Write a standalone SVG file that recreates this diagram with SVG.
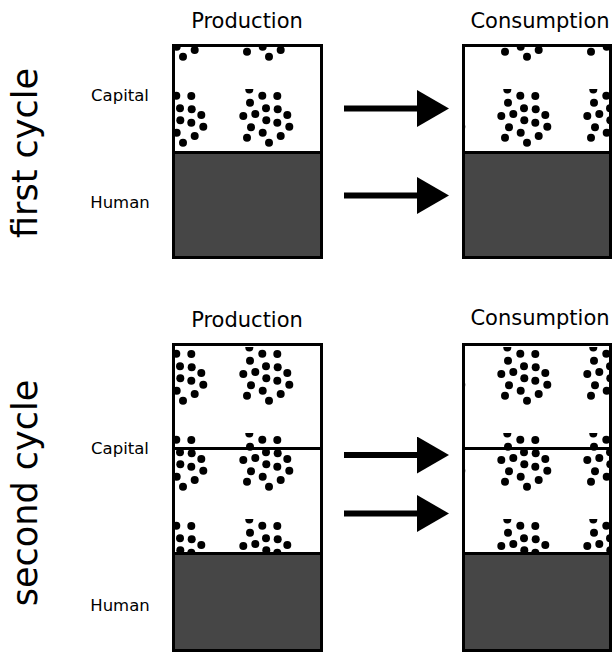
<svg xmlns="http://www.w3.org/2000/svg" width="613" height="659" viewBox="0 0 613 659">
<style>
.t{font-family:"DejaVu Sans",sans-serif;fill:#000}
.hd{font-size:21px;text-anchor:middle}
.lb{font-size:16.5px;text-anchor:middle}
.cy{font-size:35px;text-anchor:middle}
.box{fill:none;stroke:#000;stroke-width:3}
.div{stroke:#000;stroke-width:3}
.cap{fill:url(#dots)}
.hum{fill:#464646}
.arr{stroke:#000;stroke-width:6;marker-end:url(#head)}
</style>
<defs>
<pattern id="dots" patternUnits="userSpaceOnUse" x="51" y="3" width="86" height="86">
<rect width="86" height="86" fill="#fff"/>
<g fill="#000">
<circle cx="26.3" cy="0.5" r="4"/>
<circle cx="39.3" cy="6.7" r="4"/>
<circle cx="54.3" cy="7" r="4"/>
<circle cx="27" cy="13.7" r="4"/>
<circle cx="43" cy="19.3" r="4"/>
<circle cx="54.7" cy="20.3" r="4"/>
<circle cx="20.3" cy="27" r="4"/>
<circle cx="32.3" cy="25" r="4"/>
<circle cx="64.3" cy="26" r="4"/>
<circle cx="43.3" cy="31.3" r="4"/>
<circle cx="54.3" cy="33.7" r="4"/>
<circle cx="28" cy="38.3" r="4"/>
<circle cx="66.3" cy="37.7" r="4"/>
<circle cx="39.7" cy="43.7" r="4"/>
<circle cx="57.7" cy="47" r="4"/>
<circle cx="24" cy="48.7" r="4"/>
<circle cx="46" cy="53.7" r="4"/>
</g>
</pattern>
<marker id="head" markerUnits="userSpaceOnUse" markerWidth="32" markerHeight="37" refX="0" refY="18.5" orient="auto" viewBox="0 0 32 37">
<path d="M0,0 L32,18.5 L0,37 Z" fill="#000"/>
</marker>
</defs>
<rect width="613" height="659" fill="#fff"/>

<text class="t cy" transform="translate(37,153) rotate(-90)">first cycle</text>
<text class="t cy" transform="translate(37,493) rotate(-90)">second cycle</text>

<g id="production1">
<text class="t hd" x="247" y="28">Production</text>
<rect class="cap" x="173.5" y="45.5" width="148" height="107"/>
<rect class="hum" x="173.5" y="152.5" width="148" height="105"/>
<line class="div" x1="173.5" y1="152.5" x2="321.5" y2="152.5"/>
<rect class="box" x="173.5" y="45.5" width="148" height="212"/>
<text class="t lb" x="120" y="101">Capital</text>
<text class="t lb" x="120" y="208">Human</text>
</g>

<g id="consumption1">
<text class="t hd" x="540" y="28">Consumption</text>
<rect class="cap" x="463.5" y="45.5" width="147" height="107"/>
<rect class="hum" x="463.5" y="152.5" width="147" height="105"/>
<line class="div" x1="463.5" y1="152.5" x2="610.5" y2="152.5"/>
<rect class="box" x="463.5" y="45.5" width="147" height="212"/>
</g>

<g id="production2">
<text class="t hd" x="247" y="327">Production</text>
<rect class="cap" x="173.5" y="344.5" width="148" height="209"/>
<rect class="hum" x="173.5" y="553.5" width="148" height="97"/>
<line class="div" x1="173.5" y1="448.5" x2="321.5" y2="448.5"/>
<line class="div" x1="173.5" y1="553.5" x2="321.5" y2="553.5"/>
<rect class="box" x="173.5" y="344.5" width="148" height="306"/>
<text class="t lb" x="120" y="454">Capital</text>
<text class="t lb" x="120" y="611">Human</text>
</g>

<g id="consumption2">
<text class="t hd" x="540" y="325">Consumption</text>
<rect class="cap" x="463.5" y="344.5" width="147" height="209"/>
<rect class="hum" x="463.5" y="553.5" width="147" height="97"/>
<line class="div" x1="463.5" y1="448.5" x2="610.5" y2="448.5"/>
<line class="div" x1="463.5" y1="553.5" x2="610.5" y2="553.5"/>
<rect class="box" x="463.5" y="344.5" width="147" height="306"/>
</g>

<g id="connectors">
<line class="arr" x1="344" y1="108.5" x2="417" y2="108.5"/>
<line class="arr" x1="344" y1="195.5" x2="417" y2="195.5"/>
<line class="arr" x1="344" y1="455" x2="417" y2="455"/>
<line class="arr" x1="344" y1="513.5" x2="417" y2="513.5"/>
</g>
</svg>
